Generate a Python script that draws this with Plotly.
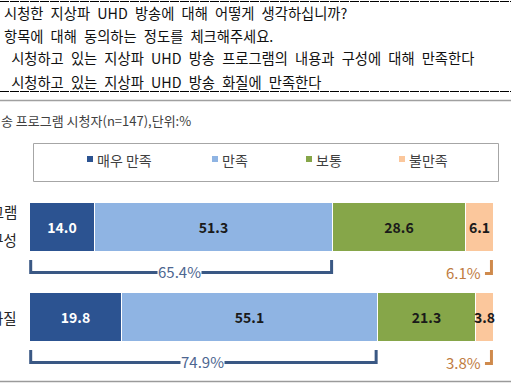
import plotly.graph_objects as go

# ---------------- data ----------------
question_lines = [
    "시청한 지상파 UHD 방송에 대해 어떻게 생각하십니까?",
    "항목에 대해 동의하는 정도를 체크해주세요.",
    " 시청하고 있는 지상파 UHD 방송 프로그램의 내용과 구성에 대해 만족한다",
    " 시청하고 있는 지상파 UHD 방송 화질에 만족한다",
]
subtitle = "송 프로그램 시청자(n=147),단위:%"
categories = ["프로그램<br>내용과 구성", "화질"]
series_names = ["매우 만족", "만족", "보통", "불만족"]
very_satisfied = [14.0, 19.8]
satisfied = [51.3, 55.1]
neutral = [28.6, 21.3]
dissatisfied = [6.1, 3.8]
top2_labels = [65.4, 74.9]
bottom1_labels = [6.1, 3.8]

series_values = [very_satisfied, satisfied, neutral, dissatisfied]
colors = ["#2c5391", "#8fb4e3", "#86a649", "#fbc79c"]
text_colors = ["#ffffff", "#1a1a1a", "#1a1a1a", "#1a1a1a"]

W, H = 511, 383
FONT = "Noto Sans CJK KR"

# pixel mapping helpers (plot area == full canvas)
x0_px, px_per_unit = 30.0, 4.64
row0_px, row_step = 227.5, 90.0
xr = [-x0_px / px_per_unit, (W - x0_px) / px_per_unit]
yr = [1 + (H - (row0_px + row_step)) / row_step, -row0_px / row_step]


def PX(x):
    return x / W


def PY(y):
    return 1 - y / H


ypos = list(range(len(categories)))

fig = go.Figure()
for name, vals, col, tcol in zip(series_names, series_values, colors, text_colors):
    fig.add_trace(go.Bar(
        name=name, x=vals, y=ypos, orientation="h", width=0.55,
        marker=dict(color=col, line=dict(color="white", width=1)),
        text=[f"{v:.1f}" for v in vals], textposition="inside",
        insidetextanchor="middle", textangle=0, constraintext="none",
        textfont=dict(family=FONT, size=14, color=tcol, weight="bold"),
        hoverinfo="skip", showlegend=False,
    ))

shapes = []
annotations = []

# top dashed rules and gray separators
shapes.append(dict(type="line", xref="paper", yref="paper", x0=0, x1=1,
                   y0=PY(1.5), y1=PY(1.5), line=dict(color="#000", width=1, dash="9px,1px")))
shapes.append(dict(type="line", xref="paper", yref="paper", x0=0, x1=1,
                   y0=PY(91.5), y1=PY(91.5), line=dict(color="#000", width=1, dash="9px,1px")))
shapes.append(dict(type="line", xref="paper", yref="paper", x0=0, x1=1,
                   y0=PY(100.5), y1=PY(100.5), line=dict(color="#a0a0a0", width=1.5)))
shapes.append(dict(type="line", xref="paper", yref="paper", x0=0, x1=1,
                   y0=PY(381.5), y1=PY(381.5), line=dict(color="#9a9a9a", width=1.5)))

# question text (wide word spacing as in the original form)
q_pos = [(2, 12), (2, 35), (2, 58), (2, 81)]
for txt, (x, y) in zip(question_lines, q_pos):
    shown = txt.replace(" ", "\u2002")
    annotations.append(dict(text=shown, xref="paper", yref="paper", x=PX(x), y=PY(y),
                            xanchor="left", yanchor="middle", showarrow=False,
                            font=dict(family=FONT, size=14.3, color="#111")))

annotations.append(dict(text=subtitle, xref="paper", yref="paper", x=PX(-1), y=PY(120),
                        xanchor="left", yanchor="middle", showarrow=False,
                        font=dict(family=FONT, size=13, color="#404040")))

# legend box
shapes.append(dict(type="rect", xref="paper", yref="paper", x0=PX(33.5), x1=PX(498.5),
                   y0=PY(143.5), y1=PY(181.5), line=dict(color="#a6a6a6", width=1),
                   fillcolor="rgba(0,0,0,0)"))
leg_x = [87, 212, 306, 399]
for name, col, lx in zip(series_names, colors, leg_x):
    shapes.append(dict(type="rect", xref="paper", yref="paper", x0=PX(lx), x1=PX(lx + 6),
                       y0=PY(156), y1=PY(162), line=dict(width=0), fillcolor=col))
    annotations.append(dict(text=name, xref="paper", yref="paper", x=PX(lx + 8), y=PY(159.5),
                            xanchor="left", yanchor="middle", showarrow=False,
                            font=dict(family=FONT, size=14, color="#404040")))

# category labels (partly beyond the left edge, as in the cropped original)
for i, cat in enumerate(categories):
    parts = cat.split("<br>")
    cy = row0_px + i * row_step
    offs = [0] if len(parts) == 1 else [-16, 12]
    for p, o in zip(parts, offs):
        annotations.append(dict(text=p, xref="paper", yref="paper", x=PX(18.5), y=PY(cy + o),
                                xanchor="right", yanchor="middle", showarrow=False,
                                font=dict(family=FONT, size=14.5, color="#262626")))

# brackets
blue = "#3a5884"
orange = "#cf8a4c"
for i in ypos:
    xa = 0.15
    xb = very_satisfied[i] + satisfied[i] - 0.3
    ya, yb = i + 0.36, i + 0.50
    shapes.append(dict(type="path", xref="x", yref="y",
                       path=f"M {xa},{ya} L {xa},{yb} L {xb},{yb} L {xb},{ya}",
                       line=dict(color=blue, width=3)))
    annotations.append(dict(text=f"{top2_labels[i]:.1f}%", xref="x", yref="y",
                            x=(xa + xb) / 2 - 0.3, y=i + 0.485, showarrow=False,
                            bgcolor="white", borderpad=0,
                            font=dict(family=FONT, size=15, color="#4d6690")))
    total = sum(s[i] for s in series_values)
    xe = total - 0.55
    shapes.append(dict(type="path", xref="x", yref="y",
                       path=f"M {xe},{i + 0.36} L {xe},{i + 0.51} L {xe - 1.4},{i + 0.51}",
                       line=dict(color=orange, width=3)))
    annotations.append(dict(text=f"{bottom1_labels[i]:.1f}%", xref="x", yref="y",
                            x=total - 2.4, y=i + 0.495, xanchor="right", showarrow=False,
                            font=dict(family=FONT, size=15, color="#c07c42")))

fig.update_layout(
    width=W, height=H, margin=dict(l=0, r=0, t=0, b=0, pad=0),
    barmode="stack", bargap=0, plot_bgcolor="white", paper_bgcolor="white",
    xaxis=dict(range=xr, visible=False, fixedrange=True),
    yaxis=dict(range=yr, visible=False, fixedrange=True),
    shapes=shapes, annotations=annotations, showlegend=False,
    font=dict(family=FONT),
)

fig.write_html("out.html", config={"displayModeBar": False},
               post_script="document.body.style.margin='0';")
